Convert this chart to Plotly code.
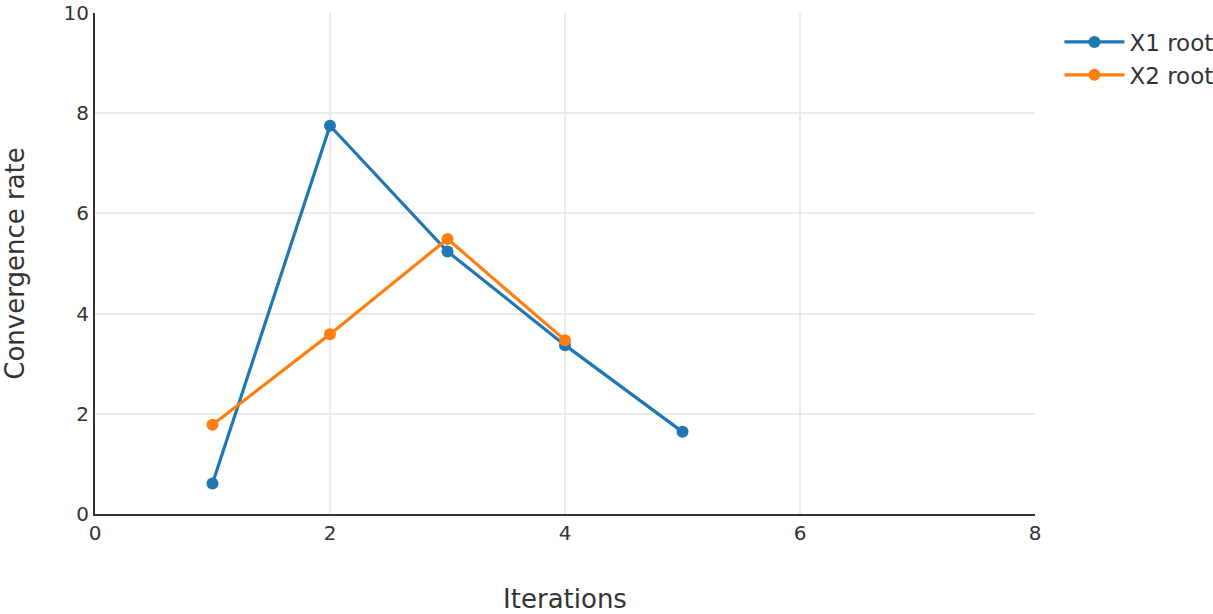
import plotly.graph_objects as go

iterations_x1 = [1, 2, 3, 4, 5]
x1_root = [0.61, 7.75, 5.24, 3.37, 1.64]
iterations_x2 = [1, 2, 3, 4]
x2_root = [1.78, 3.59, 5.49, 3.47]

fig = go.Figure()
fig.add_trace(go.Scatter(x=iterations_x1, y=x1_root, mode="lines+markers", name="X1 root",
                         line=dict(color="#1f77b4", width=3.2), marker=dict(size=12)))
fig.add_trace(go.Scatter(x=iterations_x2, y=x2_root, mode="lines+markers", name="X2 root",
                         line=dict(color="#ff7f0e", width=3.2), marker=dict(size=12)))

font_family = "DejaVu Sans, Verdana, sans-serif"
fig.update_layout(
    width=1213, height=614,
    margin=dict(l=95, r=178, t=13, b=100, autoexpand=False),
    plot_bgcolor="white", paper_bgcolor="white",
    font=dict(family=font_family, color="#333", size=20),
    legend=dict(x=1.026, y=0.985, xanchor="left", yanchor="top", font=dict(size=23),
                itemwidth=60),
    xaxis=dict(range=[0, 8], dtick=2, showgrid=True, gridcolor="#ebebeb", gridwidth=2,
               showline=True, linecolor="#333", linewidth=2, zeroline=False, automargin=False,
               ticklabeloverflow="allow",
               title=dict(text="Iterations", font=dict(size=26), standoff=46),
               tickfont=dict(size=20)),
    yaxis=dict(range=[0, 10], dtick=2, showgrid=True, gridcolor="#ebebeb", gridwidth=2,
               showline=True, linecolor="#333", linewidth=2, zeroline=False, automargin=False,
               ticklabeloverflow="allow",
               title=dict(text="Convergence rate", font=dict(size=26), standoff=44),
               tickfont=dict(size=20)),
)
fig.write_html("out.html", config={"displayModeBar": False},
               post_script="document.body.style.margin='0';document.body.style.overflow='hidden';")
